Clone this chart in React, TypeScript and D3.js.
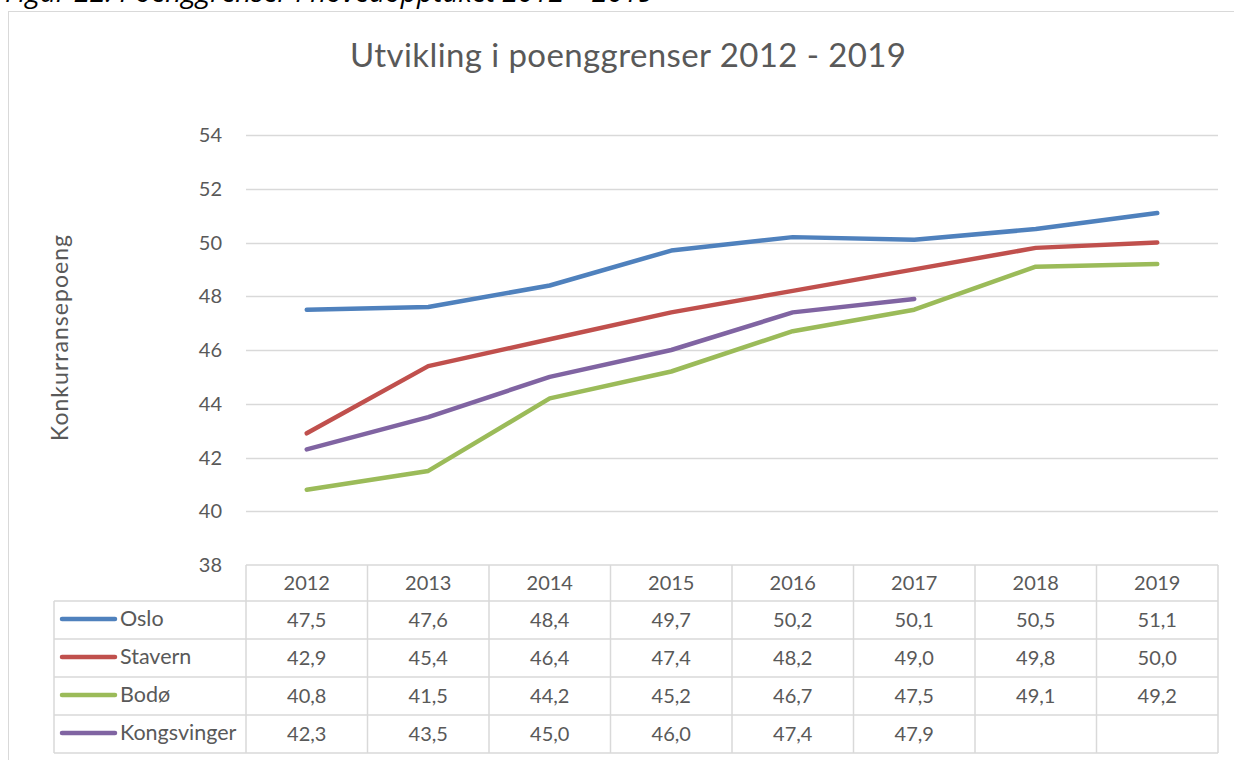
import React, { useRef, useEffect } from 'react';
import * as d3 from 'd3';

const years = ['2012', '2013', '2014', '2015', '2016', '2017', '2018', '2019'];
const seriesNames = ['Oslo', 'Stavern', 'Bodø', 'Kongsvinger'];
const oslo = [47.5, 47.6, 48.4, 49.7, 50.2, 50.1, 50.5, 51.1];
const stavern = [42.9, 45.4, 46.4, 47.4, 48.2, 49.0, 49.8, 50.0];
const bodo = [40.8, 41.5, 44.2, 45.2, 46.7, 47.5, 49.1, 49.2];
const kongsvinger = [42.3, 43.5, 45.0, 46.0, 47.4, 47.9, null, null];
const yTicks = [38, 40, 42, 44, 46, 48, 50, 52, 54];
const colors = ['#4f81bd', '#c0504d', '#9bbb59', '#8064a2'];

const W = 1234;
const H = 760;
const FONT = 'Lato, Carlito, "Open Sans", sans-serif';

const App = () => {
    const svgRef = useRef<SVGSVGElement>(null);

    useEffect(() => {
        const svg = d3.select(svgRef.current);
        svg.selectAll('*').remove();
        svg.attr('width', W).attr('height', H);

        const series = [oslo, stavern, bodo, kongsvinger];
        const left = 246, right = 1218, top = 135, bottom = 565;
        const rowH = 38;
        const legendLeft = 54;

        // caption above the chart (cut off by the crop)
        svg.append('text')
            .attr('x', 5)
            .attr('y', 2)
            .attr('font-family', '"Open Sans", sans-serif')
            .attr('font-style', 'italic')
            .attr('font-size', 28)
            .attr('fill', '#000')
            .text('Figur 22: Poenggrenser i hovedopptaket 2012 – 2019');

        // chart frame
        svg.append('rect')
            .attr('x', 8.5).attr('y', 11.5)
            .attr('width', 1240).attr('height', 800)
            .attr('fill', 'none')
            .attr('stroke', '#d9d9d9');

        const x = d3.scaleBand().domain(years).range([left, right]);
        const y = d3.scaleLinear().domain([38, 54]).range([bottom, top]);

        svg.append('text')
            .attr('x', 628).attr('y', 67)
            .attr('text-anchor', 'middle')
            .attr('font-family', FONT)
            .attr('font-size', 33)
            .attr('textLength', 556)
            .attr('lengthAdjust', 'spacing')
            .attr('fill', '#595959')
            .text('Utvikling i poenggrenser 2012 - 2019');

        svg.append('text')
            .attr('transform', 'translate(68,338) rotate(-90)')
            .attr('text-anchor', 'middle')
            .attr('font-family', FONT)
            .attr('font-size', 23)
            .attr('textLength', 206)
            .attr('lengthAdjust', 'spacing')
            .attr('fill', '#595959')
            .text('Konkurransepoeng');

        // gridlines
        svg.append('g')
            .selectAll('line')
            .data(yTicks.filter((t) => t !== 38))
            .enter()
            .append('line')
            .attr('x1', left).attr('x2', right)
            .attr('y1', (d) => Math.round(y(d)) + 0.5)
            .attr('y2', (d) => Math.round(y(d)) + 0.5)
            .attr('stroke', '#d9d9d9')
            .attr('stroke-width', 1.5);

        svg.append('g')
            .selectAll('text')
            .data(yTicks)
            .enter()
            .append('text')
            .attr('x', 222)
            .attr('y', (d) => y(d) + 7)
            .attr('text-anchor', 'end')
            .attr('font-family', FONT)
            .attr('font-size', 20)
            .attr('fill', '#595959')
            .text((d) => d);

        // data table grid
        const table = svg.append('g').attr('stroke', '#d9d9d9').attr('stroke-width', 1.5);
        const tableBottom = bottom + rowH * 5 - 2;
        table.append('line')
            .attr('x1', left).attr('x2', right)
            .attr('y1', bottom).attr('y2', bottom);
        seriesNames.forEach((_, i) => {
            const yy = bottom + 36 + i * rowH;
            table.append('line')
                .attr('x1', legendLeft).attr('x2', right)
                .attr('y1', yy).attr('y2', yy);
        });
        table.append('line')
            .attr('x1', legendLeft).attr('x2', right)
            .attr('y1', tableBottom).attr('y2', tableBottom);
        table.append('line')
            .attr('x1', legendLeft).attr('x2', legendLeft)
            .attr('y1', bottom + 36).attr('y2', tableBottom);
        [...years.map((yr) => x(yr)!), right].forEach((xx) => {
            table.append('line')
                .attr('x1', xx).attr('x2', xx)
                .attr('y1', bottom).attr('y2', tableBottom);
        });

        const cx = (yr: string) => x(yr)! + x.bandwidth() / 2;

        svg.append('g')
            .selectAll('text')
            .data(years)
            .enter()
            .append('text')
            .attr('x', (d) => cx(d))
            .attr('y', bottom + 25)
            .attr('text-anchor', 'middle')
            .attr('font-family', FONT)
            .attr('font-size', 20)
            .attr('fill', '#595959')
            .text((d) => d);

        seriesNames.forEach((name, i) => {
            const rowMid = bottom + 36 + i * rowH + rowH / 2;
            svg.append('line')
                .attr('x1', 62).attr('x2', 115)
                .attr('y1', rowMid - 1).attr('y2', rowMid - 1)
                .attr('stroke', colors[i])
                .attr('stroke-width', 4.5)
                .attr('stroke-linecap', 'round');
            svg.append('text')
                .attr('x', 120)
                .attr('y', rowMid + 6)
                .attr('font-family', FONT)
                .attr('font-size', 21.5)
                .attr('fill', '#595959')
                .text(name);
            svg.append('g')
                .selectAll('text')
                .data(series[i].map((v, j) => ({ v, yr: years[j] })).filter((d) => d.v !== null))
                .enter()
                .append('text')
                .attr('x', (d) => cx(d.yr))
                .attr('y', rowMid + 7)
                .attr('text-anchor', 'middle')
                .attr('font-family', FONT)
                .attr('font-size', 20)
                .attr('fill', '#595959')
                .text((d) => (d.v as number).toFixed(1).replace('.', ','));
        });

        // lines
        const line = d3.line<number | null>()
            .defined((d) => d !== null)
            .x((_, j) => cx(years[j]))
            .y((d) => y(d as number));

        svg.append('g')
            .selectAll('path')
            .data(series)
            .enter()
            .append('path')
            .attr('d', (d) => line(d))
            .attr('fill', 'none')
            .attr('stroke', (_, i) => colors[i])
            .attr('stroke-width', 4.5)
            .attr('stroke-linejoin', 'round')
            .attr('stroke-linecap', 'round');
    }, []);

    return (
        <svg ref={svgRef} style={{ position: 'absolute', left: 0, top: 0 }}></svg>
    );
};

export default App;
